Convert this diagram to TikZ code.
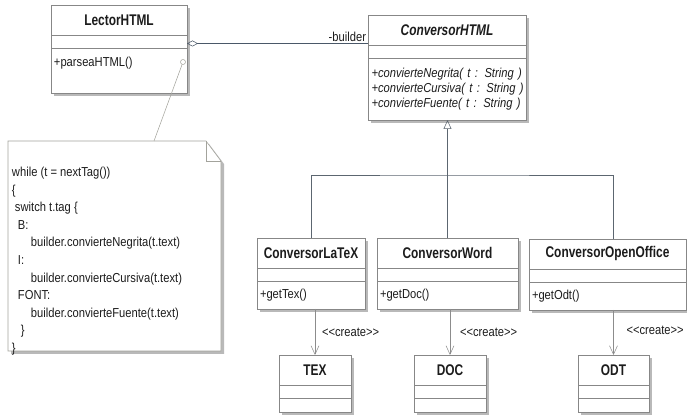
\documentclass[tikz,border=0pt]{standalone}
\usepackage{fontspec}
\setmainfont{Liberation Sans}[FakeStretch=0.86]
\newfontfamily\namefont{Liberation Sans}[FakeStretch=0.77]
\usepackage{tikz}
\usetikzlibrary{arrows.meta,positioning,shadows}

\definecolor{umlgray}{HTML}{878787}
\definecolor{shadegray}{HTML}{B9B9B9}
\definecolor{assoccol}{HTML}{4A5868}
\definecolor{gencol}{HTML}{5C6670}
\definecolor{depcol}{HTML}{8C8C8C}
\definecolor{memocol}{HTML}{A3A39C}
\definecolor{txtcol}{HTML}{1C1C1C}

\newlength\upx
\setlength\upx{0.75pt}
\newcommand\create{\textless\kern0pt\textless create\textgreater\kern0pt\textgreater}

\begin{document}
\begin{tikzpicture}[
  x=0.75pt, y=-0.75pt,
  every node/.style={inner sep=0pt, outer sep=0pt, text=txtcol},
  cbox/.style={draw=umlgray, fill=white,
    drop shadow={shadow xshift=3\upx, shadow yshift=-3\upx, fill=shadegray, opacity=1}},
  cname/.style={cbox, anchor=north west, minimum width=#1*\upx, minimum height=30*\upx,
    font=\namefont\fontsize{11.6}{14}\selectfont\bfseries},
  cops/.style={cbox, minimum width=#1*\upx, text width=(#1-6)*\upx, inner xsep=3\upx,
    align=left, font=\fontsize{9.75}{11.25}\selectfont},
  code/.style={align=left, font=\fontsize{9.75}{13.2}\selectfont},
  memo/.style={minimum width=213*\upx, minimum height=210*\upx},
  memoline/.style={draw=memocol, fill=white,
    drop shadow={shadow xshift=3\upx, shadow yshift=-3\upx, fill=shadegray, opacity=1}},
  hook/.style={circle, draw=memocol, fill=white, minimum size=5\upx},
  role/.style={font=\fontsize{9.75}{11}\selectfont, inner sep=1.5pt},
  stereo/.style={font=\fontsize{9.75}{11}\selectfont},
  agg/.style={draw=assoccol, -{Diamond[open, length=8.25pt, width=4.5pt]}},
  genline/.style={draw=gencol},
  gen/.style={draw=gencol, -{Triangle[open, length=6.75pt, width=6pt]}},
  dep/.style={draw=depcol, -{Straight Barb[length=6.5pt, width=6pt]}}
]
\useasboundingbox (0,0) rectangle (687,417);

% reader
\node[cname=136] (lname) at (51,5) {LectorHTML};
\node[cbox, below=0pt of lname, minimum width=136*\upx, minimum height=13*\upx] (lattr) {};
\node[cops=136, below=0pt of lattr, minimum height=45*\upx, text height=19*\upx, text depth=26*\upx] (lops) {+parseaHTML()};

% abstract builder
\node[cname=158, font=\namefont\fontsize{11.6}{14}\selectfont\bfseries\itshape] (hname) at (368,15) {ConversorHTML};
\node[cbox, below=0pt of hname, minimum width=158*\upx, minimum height=13*\upx] (hattr) {};
\node[cops=158, below=0pt of hattr, minimum height=62*\upx, text width=155*\upx, inner xsep=1.5\upx,
  font=\fontsize{9.75}{11.25}\selectfont\itshape] (hops)
  {\hspace*{2\upx}+convierteNegrita( t : String )\\\hspace*{2\upx}+convierteCursiva( t : String )\\\hspace*{2\upx}+convierteFuente( t : String )};

% concrete builders
\node[cname=108] (xname) at (257,238) {ConversorLaTeX};
\node[cbox, below=0pt of xname, minimum width=108*\upx, minimum height=13*\upx] (xattr) {};
\node[cops=108, below=0pt of xattr, minimum height=28*\upx] (xops) {+getTex()};

\node[cname=141] (wname) at (377,238) {ConversorWord};
\node[cbox, below=0pt of wname, minimum width=141*\upx, minimum height=13*\upx] (wattr) {};
\node[cops=141, below=0pt of wattr, minimum height=28*\upx] (wops) {+getDoc()};

\node[cname=157] (oname) at (529,239) {ConversorOpenOffice};
\node[cbox, below=0pt of oname, minimum width=157*\upx, minimum height=13*\upx] (oattr) {};
\node[cops=157, below=0pt of oattr, minimum height=28*\upx] (oops) {+getOdt()};

% products
\node[cname=72] (tname) at (279,355) {TEX};
\node[cbox, below=0pt of tname, minimum width=72*\upx, minimum height=13*\upx] (tattr) {};
\node[cbox, below=0pt of tattr, minimum width=72*\upx, minimum height=14*\upx] (tops) {};

\node[cname=72] (dname) at (414,355) {DOC};
\node[cbox, below=0pt of dname, minimum width=72*\upx, minimum height=13*\upx] (dattr) {};
\node[cbox, below=0pt of dattr, minimum width=72*\upx, minimum height=14*\upx] (dops) {};

\node[cname=71] (pname) at (578,355) {ODT};
\node[cbox, below=0pt of pname, minimum width=71*\upx, minimum height=13*\upx] (pattr) {};
\node[cbox, below=0pt of pattr, minimum width=71*\upx, minimum height=14*\upx] (pops) {};

% note
\node[memo] (memo) at (114.5,246) {};
\draw[memoline] (memo.north west) -- ([xshift=-15*\upx]memo.north east)
  -- ([yshift=-20*\upx]memo.north east) -- (memo.south east) -- (memo.south west) -- cycle;
\draw[draw=memocol] ([xshift=-15*\upx]memo.north east) -- ([xshift=-15*\upx, yshift=-20*\upx]memo.north east)
  -- ([yshift=-20*\upx]memo.north east);
\node[code, below right=26*\upx and 4*\upx of memo.north west] (code)
  {while (t = nextTag())\\
   \{\\
   \hspace*{3\upx}switch t.tag \{\\
   \hspace*{6\upx}B:\\
   \hspace*{19\upx}builder.convierteNegrita(t.text)\\
   \hspace*{6\upx}I:\\
   \hspace*{19\upx}builder.convierteCursiva(t.text)\\
   \hspace*{6\upx}FONT:\\
   \hspace*{19\upx}builder.convierteFuente(t.text)\\
   \hspace*{9\upx}\}\\
   \}};
\node[hook] (hook) at (183,62) {};
\coordinate (memotip) at ([xshift=39.5*\upx]memo.north);
\draw[draw=memocol] (hook) -- (memotip);

% relations
\draw[agg] ([yshift=-2*\upx]lattr.east -| hname.west)
  -- node[role, pos=0, anchor=south east] (builder) {-builder} ([yshift=-2*\upx]lattr.east);
\coordinate (bar) at (447,175);
\draw[gen] (wname.north) -- (wname.north |- hops.south);
\draw[genline] (xname.north) |- (bar) -| (oname.north -| pname.north);

\draw[dep] (tname.north |- xops.south) -- node[stereo, anchor=west, xshift=7*\upx] {\create} (tname.north);
\draw[dep] (dname.north |- wops.south) -- node[stereo, anchor=west, xshift=10*\upx] {\create} (dname.north);
\draw[dep] (pname.north |- oops.south) -- node[stereo, anchor=west, xshift=13*\upx, yshift=2*\upx] {\create} (pname.north);
\end{tikzpicture}
\end{document}
